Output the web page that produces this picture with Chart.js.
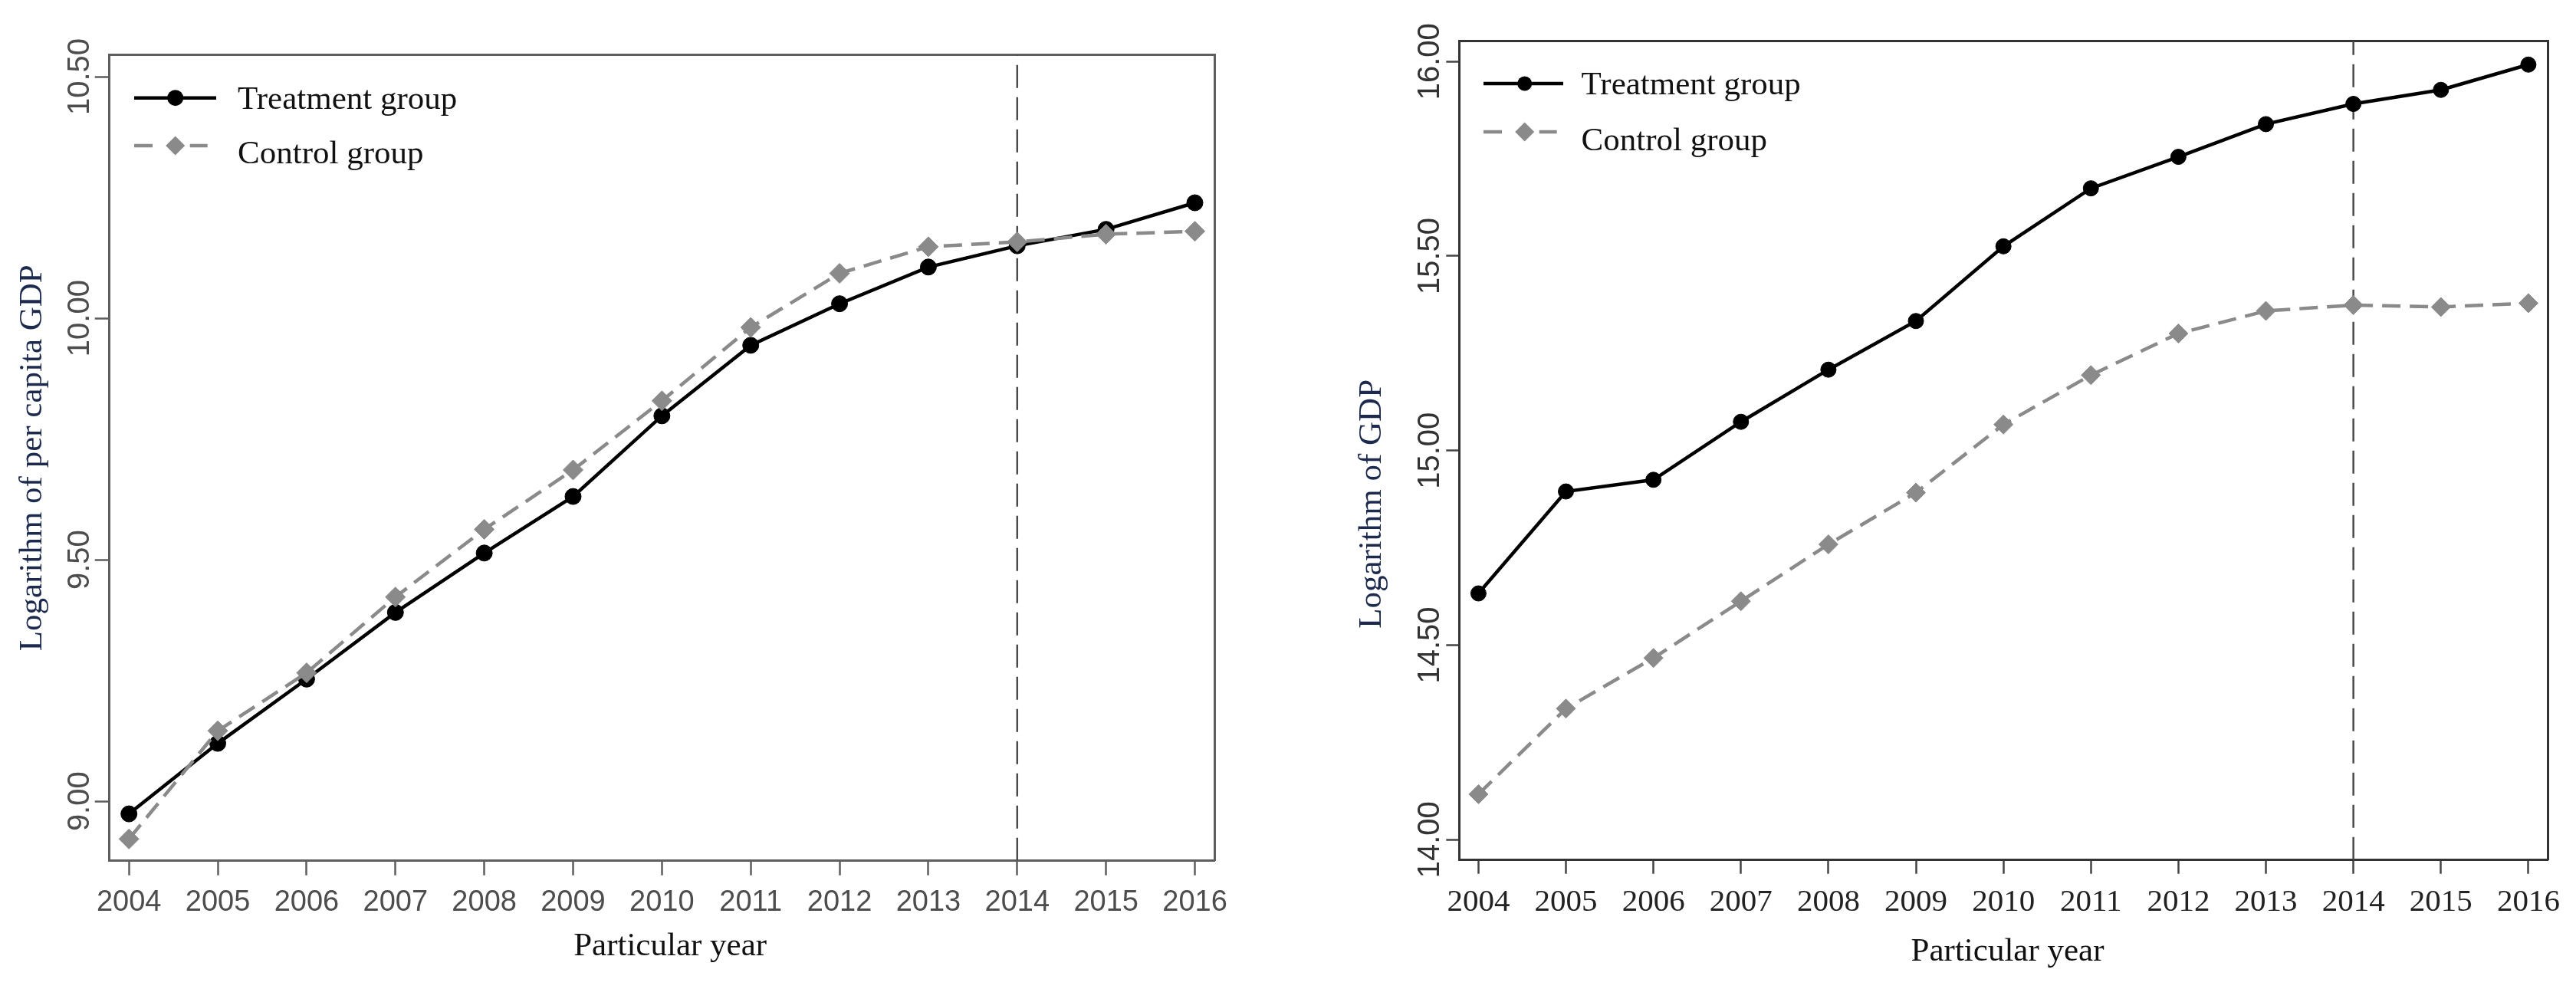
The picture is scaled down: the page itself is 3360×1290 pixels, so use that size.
<!DOCTYPE html>
<html>
<head>
<meta charset="utf-8">
<script src="https://cdn.jsdelivr.net/npm/chart.js@4.4.1/dist/chart.umd.min.js"></script>
<style>
html,body{margin:0;padding:0;background:#fff;}
#wrap{position:relative;width:3360px;height:1290px;overflow:hidden;background:#fff;}
.panel{position:absolute;top:0;width:1680px;height:1290px;}
.panel canvas,.panel svg{position:absolute;left:0;top:0;}
.panel svg{pointer-events:none;}
</style>
</head>
<body>
<div id="wrap">
  <div class="panel" style="left:0px"><canvas id="cL" width="1680" height="1290"></canvas><svg id="gL" width="1680" height="1290" xmlns="http://www.w3.org/2000/svg"></svg></div>
  <div class="panel" style="left:1680px"><canvas id="cR" width="1680" height="1290"></canvas><svg id="gR" width="1680" height="1290" xmlns="http://www.w3.org/2000/svg"></svg></div>
</div>
<script>
// ---------------- data ----------------
const years = [2004, 2005, 2006, 2007, 2008, 2009, 2010, 2011, 2012, 2013, 2014, 2015, 2016];
const yearLabels = ['2004', '2005', '2006', '2007', '2008', '2009', '2010', '2011', '2012', '2013', '2014', '2015', '2016'];
const seriesNames = ['Treatment group', 'Control group'];
const policyYear = 2014;

const leftTreatment = [8.974, 9.120, 9.253, 9.391, 9.514, 9.631, 9.798, 9.944, 10.030, 10.106, 10.150, 10.184, 10.239];
const leftControl   = [8.922, 9.146, 9.266, 9.423, 9.563, 9.686, 9.829, 9.981, 10.093, 10.148, 10.158, 10.174, 10.180];
const leftYTicks = [9.0, 9.5, 10.0, 10.5];
const leftYTickLabels = ['9.00', '9.50', '10.00', '10.50'];
const leftYTitle = 'Logarithm of per capita GDP';

const rightTreatment = [14.633, 14.895, 14.925, 15.074, 15.208, 15.333, 15.525, 15.674, 15.755, 15.839, 15.891, 15.927, 15.992];
const rightControl   = [14.117, 14.337, 14.467, 14.613, 14.759, 14.892, 15.067, 15.194, 15.301, 15.359, 15.374, 15.369, 15.379];
const rightYTicks = [14.0, 14.5, 15.0, 15.5, 16.0];
const rightYTickLabels = ['14.00', '14.50', '15.00', '15.50', '16.00'];
const rightYTitle = 'Logarithm of GDP';

const xTitle = 'Particular year';

// ---------------- styling / layout ----------------
const xAxisMin = 2003.78, xAxisMax = 2016.22;
const GRAY = '#8a8a8a';
const SERIF = "'Liberation Serif', 'Times New Roman', serif";
const SANS = "'Liberation Sans', Arial, sans-serif";
const NBSP = '\u00A0';

function measureMax(labels, font) {
  const ctx = document.createElement('canvas').getContext('2d');
  ctx.font = font;
  return Math.max.apply(null, labels.map(t => ctx.measureText(t).width));
}

function svgAdd(svg, tag, attrs, text) {
  const el = document.createElementNS('http://www.w3.org/2000/svg', tag);
  for (const k in attrs) el.setAttribute(k, attrs[k]);
  if (text !== undefined) el.textContent = text;
  svg.appendChild(el);
  return el;
}

function drawLegend(svgId, chart, L) {
  const svg = document.getElementById(svgId);
  const ca = chart.chartArea;
  const x0 = ca.left + L.iconStart, x1 = ca.left + L.iconEnd, xm = ca.left + L.marker;
  const r1 = ca.top + L.row1, r2 = ca.top + L.row2;
  // treatment
  svgAdd(svg, 'line', {x1: x0, y1: r1, x2: x1, y2: r1, stroke: '#000', 'stroke-width': L.lw});
  svgAdd(svg, 'circle', {cx: xm, cy: r1, r: L.circleR, fill: '#000'});
  svgAdd(svg, 'text', {x: ca.left + L.textX, y: ca.top + L.base1, 'font-family': SERIF, 'font-size': L.fontSize, fill: '#111'}, seriesNames[0]);
  // control
  svgAdd(svg, 'line', {x1: x0, y1: r2, x2: x0 + 24, y2: r2, stroke: GRAY, 'stroke-width': L.lw});
  svgAdd(svg, 'line', {x1: xm + 19, y1: r2, x2: xm + 42, y2: r2, stroke: GRAY, 'stroke-width': L.lw});
  const d = L.diamondR;
  svgAdd(svg, 'polygon', {points: `${xm - d},${r2} ${xm},${r2 - d} ${xm + d},${r2} ${xm},${r2 + d}`, fill: GRAY});
  svgAdd(svg, 'text', {x: ca.left + L.textX, y: ca.top + L.base2, 'font-family': SERIF, 'font-size': L.fontSize, fill: '#111'}, seriesNames[1]);
}

function build(o) {
  const canvas = document.getElementById(o.canvas);
  const W = canvas.width, H = canvas.height;
  const widest = measureMax(o.yTickLabels, o.yTickFont.size + 'px ' + o.yTickFont.family);
  const yPad = o.yLabelGap - o.yTickLen - widest / 2;
  const frame = {display: true, color: o.frameColor, width: o.frameWidth};
  const serifFont = {family: SERIF, size: 43};

  const chart = new Chart(canvas, {
    type: 'line',
    data: {
      datasets: [
        {
          label: seriesNames[1],
          data: years.map((x, i) => ({x: x, y: o.control[i]})),
          borderColor: GRAY, backgroundColor: GRAY, borderWidth: o.lineWidth,
          borderDash: [24, 12], tension: 0, fill: false,
          pointStyle: 'rectRot', pointRadius: o.diamondR, pointBorderWidth: 1,
          pointBackgroundColor: GRAY, pointBorderColor: GRAY
        },
        {
          label: seriesNames[0],
          data: years.map((x, i) => ({x: x, y: o.treatment[i]})),
          borderColor: '#000', backgroundColor: '#000', borderWidth: o.lineWidth,
          tension: 0, fill: false,
          pointStyle: 'circle', pointRadius: o.circleR, pointBorderWidth: 1,
          pointBackgroundColor: '#000', pointBorderColor: '#000'
        },
        {
          label: 'policy',
          data: [{x: policyYear, y: o.yMin}, {x: policyYear, y: o.yMax}],
          borderColor: '#4a4a4a', borderWidth: 2.5, borderDash: [30, 12],
          pointRadius: 0, fill: false
        }
      ]
    },
    options: {
      responsive: false,
      animation: false,
      events: [],
      layout: {padding: {left: 0, top: o.chartTop, right: W - o.chartRight, bottom: 0}},
      plugins: {legend: {display: false}, tooltip: {enabled: false}},
      scales: {
        x: {
          type: 'linear', position: 'bottom', min: xAxisMin, max: xAxisMax,
          afterBuildTicks: s => { s.ticks = years.map(v => ({value: v})); },
          afterFit: s => { s.height = H - o.chartBottom; },
          ticks: {
            autoSkip: false, minRotation: 0, maxRotation: 0,
            padding: o.xTickPad, color: o.xTickColor, font: o.xTickFont,
            callback: (v, i) => yearLabels[i]
          },
          grid: {display: true, drawOnChartArea: false, drawTicks: true, tickLength: o.xTickLen, tickWidth: 2.5, tickColor: o.tickColor},
          border: frame,
          title: {display: true, text: NBSP.repeat(o.xTitleShift) + xTitle, color: '#111', font: serifFont, padding: {top: 0, bottom: o.xTitlePad}}
        },
        x2: {
          type: 'linear', axis: 'x', position: 'top', min: xAxisMin, max: xAxisMax,
          ticks: {display: false},
          grid: {display: true, drawOnChartArea: false, drawTicks: false},
          border: frame
        },
        y: {
          type: 'linear', position: 'left', min: o.yMin, max: o.yMax,
          afterBuildTicks: s => { s.ticks = o.yTicks.map(v => ({value: v})); },
          afterFit: s => { s.width = o.chartLeft; },
          ticks: {
            autoSkip: false, minRotation: 90, maxRotation: 90, crossAlign: 'center',
            padding: yPad, color: o.yTickColor, font: o.yTickFont,
            callback: (v, i) => o.yTickLabels[i]
          },
          grid: {display: true, drawOnChartArea: false, drawTicks: true, tickLength: o.yTickLen, tickWidth: 2.5, tickColor: o.tickColor},
          border: frame,
          title: {display: true, text: o.yTitle + NBSP.repeat(o.yTitleShift), color: '#1c2a4d', font: serifFont, padding: {top: o.yTitlePad, bottom: 0}}
        },
        y2: {
          type: 'linear', axis: 'y', position: 'right', min: o.yMin, max: o.yMax,
          ticks: {display: false},
          grid: {display: true, drawOnChartArea: false, drawTicks: false},
          border: frame
        }
      }
    }
  });
  drawLegend(o.svg, chart, o.legend);
  return chart;
}

build({
  canvas: 'cL', svg: 'gL',
  treatment: leftTreatment, control: leftControl,
  yTicks: leftYTicks, yTickLabels: leftYTickLabels, yTitle: leftYTitle, yTitleShift: 0,
  yMin: 8.877, yMax: 10.545,
  chartLeft: 142.7, chartTop: 71.7, chartRight: 1584, chartBottom: 1122.7,
  frameColor: '#5e5e5e', frameWidth: 3, tickColor: '#5e5e5e',
  xTickLen: 19, yTickLen: 19,
  xTickFont: {family: SANS, size: 38}, xTickColor: '#4d4d4d', xTickPad: 13,
  yTickFont: {family: SANS, size: 40}, yTickColor: '#4d4d4d', yLabelGap: 37.7,
  xTitlePad: 29, xTitleShift: 2, yTitlePad: 17,
  lineWidth: 4.5, circleR: 10.5, diamondR: 13,
  legend: {iconStart: 32.3, iconEnd: 139.3, marker: 86, row1: 56, row2: 118.3,
           textX: 167.3, base1: 70.3, base2: 141.3, lw: 4.5, circleR: 10.5, diamondR: 12.5, fontSize: 43}
});

build({
  canvas: 'cR', svg: 'gR',
  treatment: rightTreatment, control: rightControl,
  yTicks: rightYTicks, yTickLabels: rightYTickLabels, yTitle: rightYTitle, yTitleShift: 13,
  yMin: 13.948, yMax: 16.053,
  chartLeft: 223.3, chartTop: 53.3, chartRight: 1643, chartBottom: 1121.7,
  frameColor: '#333333', frameWidth: 3, tickColor: '#444444',
  xTickLen: 18, yTickLen: 17,
  xTickFont: {family: SERIF, size: 41}, xTickColor: '#222222', xTickPad: 12.7,
  yTickFont: {family: SANS, size: 40}, yTickColor: '#333333', yLabelGap: 37.3,
  xTitlePad: 22, xTitleShift: 1, yTitlePad: 84,
  lineWidth: 4.5, circleR: 10, diamondR: 12.5,
  legend: {iconStart: 31.7, iconEnd: 135.7, marker: 85.4, row1: 55.7, row2: 118.7,
           textX: 159.3, base1: 69.7, base2: 142.2, lw: 4.5, circleR: 9.5, diamondR: 12.5, fontSize: 43}
});
</script>
</body>
</html>
